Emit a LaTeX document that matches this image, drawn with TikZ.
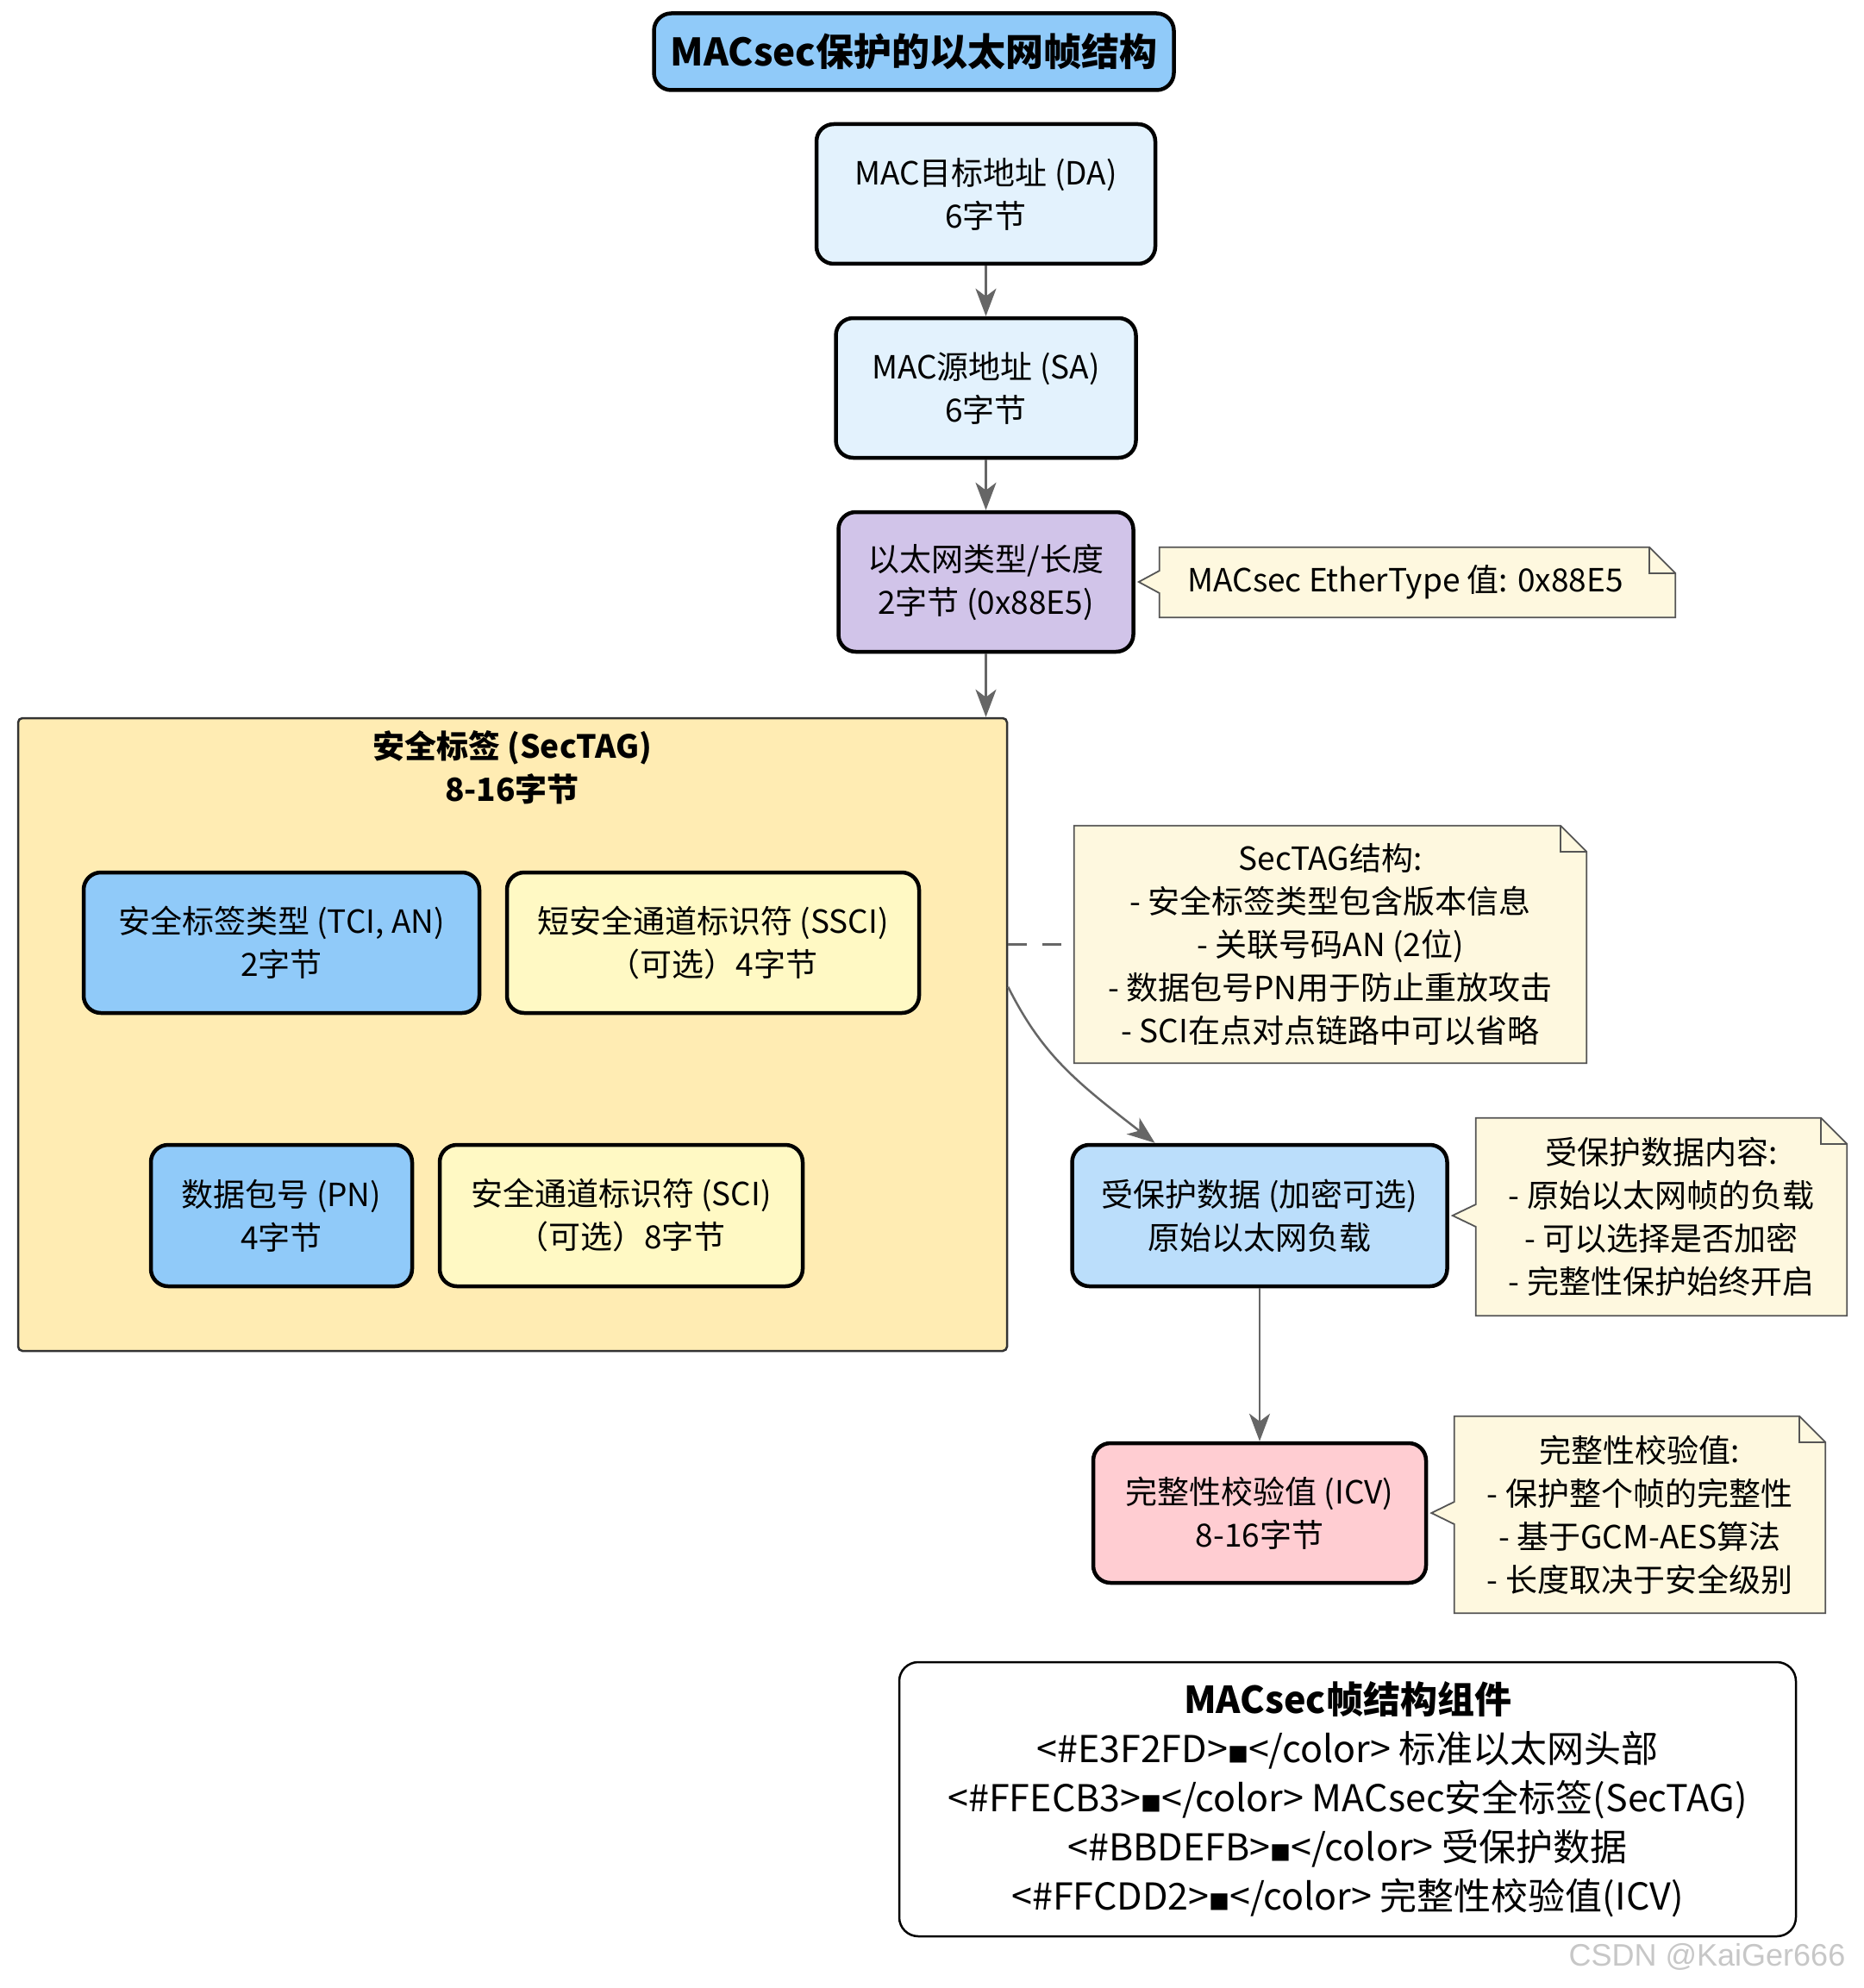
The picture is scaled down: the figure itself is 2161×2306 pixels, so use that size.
\documentclass[tikz,border=0pt]{standalone}
\usepackage{fontspec}
\setmainfont{Noto Sans CJK SC}
\newfontfamily\wmfont{Liberation Sans}
\usetikzlibrary{arrows.meta,calc,backgrounds}
\definecolor{hdrblue}{HTML}{E3F2FD}
\definecolor{titleblue}{HTML}{90CAF9}
\definecolor{ethpurple}{HTML}{D1C4E9}
\definecolor{tagyellow}{HTML}{FFECB3}
\definecolor{optyellow}{HTML}{FFF9C4}
\definecolor{pdblue}{HTML}{BBDEFB}
\definecolor{icvpink}{HTML}{FFCDD2}
\definecolor{notefill}{HTML}{FEF8DF}
\definecolor{linegray}{HTML}{666666}
\definecolor{noteline}{HTML}{555555}
\newcommand\fs[2]{\fontsize{#1}{#2}\selectfont}
\newcommand\sq{{\fs{24}{24}■}}
\newcommand\drawnote[2]{%
  \path[noteshape] (#1.north west) -- ([xshift=-30pt]#1.north east) -- ([yshift=-30pt]#1.north east)
    -- (#1.south east) -- (#1.south west) -- ($(#1.west |- #2.east)+(0,-13pt)$)
    -- ($(#2.east)+(4pt,0)$) -- ($(#1.west |- #2.east)+(0,13pt)$) -- cycle;
  \draw[notefold] ([xshift=-30pt]#1.north east) |- ([yshift=-30pt]#1.north east);}
\newcommand\drawplainnote[1]{%
  \path[noteshape] (#1.north west) -- ([xshift=-30pt]#1.north east) -- ([yshift=-30pt]#1.north east)
    -- (#1.south east) -- (#1.south west) -- cycle;
  \draw[notefold] ([xshift=-30pt]#1.north east) |- ([yshift=-30pt]#1.north east);}
\begin{document}
\begin{tikzpicture}[x=1pt,y=-1pt,
  box/.style={draw=black, line width=4.5pt, rounded corners=20pt, align=center,
    font=\fs{37}{50}, inner sep=0pt},
  container/.style={draw=black!80, line width=2.5pt, rounded corners=5pt, fill=tagyellow, inner sep=0pt},
  notetext/.style={align=center, font=\fs{37}{50}, inner sep=0pt},
  noteshape/.style={draw=noteline, line width=1.8pt, fill=notefill, line join=miter},
  notefold/.style={draw=noteline, line width=1.8pt},
  conn/.style={draw=linegray, line width=2.5pt, -{Stealth[length=32pt,width=24pt,inset=9pt]}},
  dashline/.style={draw=linegray, line width=2.5pt, dash pattern=on 22pt off 18pt},
  legendbox/.style={draw=black, line width=2.5pt, rounded corners=22pt, fill=white, align=center,
    font=\fs{43}{57}, inner sep=0pt}]
\useasboundingbox (0,0) rectangle (2161,2306);

% title
\node[box, fill=titleblue, minimum width=603pt, minimum height=89pt, font=\bfseries\fs{44}{50}] (title) at (1060,60) {MACsec保护的以太网帧结构};

% header fields
\node[box, fill=hdrblue, minimum width=393pt, minimum height=162pt] (da) at (1143.5,225) {MAC目标地址 (DA)\\6字节};
\node[box, fill=hdrblue, minimum width=348pt, minimum height=162pt] (sa) at (1143.5,450) {MAC源地址 (SA)\\6字节};
\node[box, fill=ethpurple, minimum width=342pt, minimum height=162pt] (eth) at (1143.5,675) {以太网类型/长度\\2字节 (0x88E5)};

% SecTAG container
\node[container, minimum width=1147pt, minimum height=734pt] (sectag) at (594.5,1200) {};
\node[align=center, font=\bfseries\fs{37}{50}, inner sep=0pt] (sectagtitle) at (594,890) {安全标签 (SecTAG)\\8-16字节};
\node[box, fill=titleblue, minimum width=459pt, minimum height=163pt] (tci) at (326.5,1093.5) {安全标签类型 (TCI, AN)\\2字节};
\node[box, fill=optyellow, minimum width=478pt, minimum height=163pt] (ssci) at (827,1093.5) {短安全通道标识符 (SSCI)\\（可选）4字节};
\node[box, fill=titleblue, minimum width=303pt, minimum height=164pt] (pn) at (326.5,1410) {数据包号 (PN)\\4字节};
\node[box, fill=optyellow, minimum width=421pt, minimum height=164pt] (sci) at (720.5,1410) {安全通道标识符 (SCI)\\（可选）8字节};

% protected data and ICV
\node[box, fill=pdblue, minimum width=435pt, minimum height=164pt] (pd) at (1461,1410) {受保护数据 (加密可选)\\原始以太网负载};
\node[box, fill=icvpink, minimum width=386pt, minimum height=162pt] (icv) at (1461,1755) {完整性校验值 (ICV)\\8-16字节};

% notes
\node[notetext, minimum width=598pt, minimum height=81pt] (n1) at (1644,675.5) {\hspace*{-28pt}MACsec EtherType 值: 0x88E5};
\node[notetext, minimum width=594pt, minimum height=275pt] (n2) at (1543,1095.5) {SecTAG结构:\\- 安全标签类型包含版本信息\\- 关联号码AN (2位)\\- 数据包号PN用于防止重放攻击\\- SCI在点对点链路中可以省略};
\node[notetext, minimum width=430pt, minimum height=229pt] (n3) at (1927,1411.5) {受保护数据内容:\\- 原始以太网帧的负载\\- 可以选择是否加密\\- 完整性保护始终开启};
\node[notetext, minimum width=430pt, minimum height=228pt] (n4) at (1902,1757) {完整性校验值:\\- 保护整个帧的完整性\\- 基于GCM-AES算法\\- 长度取决于安全级别};
\begin{scope}[on background layer]
  \fill[white] (0,0) rectangle (2161,2306);
  \drawnote{n1}{eth}
  \drawplainnote{n2}
  \drawnote{n3}{pd}
  \drawnote{n4}{icv}
\end{scope}

% connectors
\draw[conn] (da.south) -- (sa.north);
\draw[conn] (sa.south) -- (eth.north);
\draw[conn] (eth.south) -- (eth.south |- sectag.north);
\draw[dashline] (sectag.east |- n2.west) -- (n2.west);
\coordinate (cstart) at ($(sectag.north east)+(0,313)$);
\coordinate (pdin) at ($(pd.north)+(-121.5,0)$);
\draw[conn] (cstart) .. controls ($(cstart)+(40,80)$) and ($(pdin)+(-90,-70)$) .. (pdin);
\draw[conn] (pd.south) -- (icv.north);

% legend
\node[legendbox, minimum width=1040pt, minimum height=318pt] (legend) at (1563,2087)
  {{\bfseries MACsec帧结构组件}\\
   <\#E3F2FD>\sq</color> 标准以太网头部\\
   <\#FFECB3>\sq</color> MACsec安全标签(SecTAG)\\
   <\#BBDEFB>\sq</color> 受保护数据\\
   <\#FFCDD2>\sq</color> 完整性校验值(ICV)};

% watermark
\node[font=\wmfont\fs{36}{40}, text=black!22, inner sep=0pt] (wm) at (1980,2270) {CSDN @KaiGer666};
\end{tikzpicture}
\end{document}
